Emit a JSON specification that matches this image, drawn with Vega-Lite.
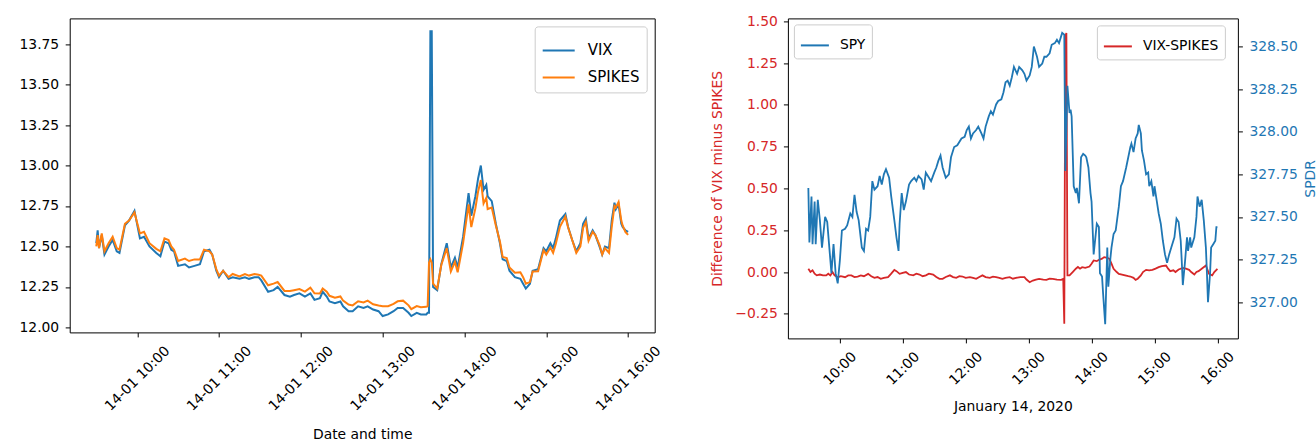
{
  "$schema": "https://vega.github.io/schema/vega-lite/v6.json",
  "background": "white",
  "padding": {"left": 17.7, "top": 13.4, "right": 0, "bottom": 0},
  "bounds": "flush",
  "spacing": 133.2,
  "resolve": {"scale": {"color": "independent"}, "legend": {"color": "independent"}},
  "config": {
    "font": "DejaVu Sans",
    "view": {"stroke": "#000", "strokeWidth": 1},
    "axis": {"labelFont": "DejaVu Sans", "labelFontSize": 13.9, "labelColor": "#000", "titleFont": "DejaVu Sans", "titleFontSize": 13.9, "titleFontWeight": "normal", "titleColor": "#000", "grid": false, "domain": false, "tickColor": "#000", "tickSize": 4.5, "tickWidth": 1, "labelPadding": 6.5, "labelOverlap": false, "labelFlush": false},
    "legend": {"labelFont": "DejaVu Sans", "labelFontSize": 13.9, "labelColor": "#000", "symbolType": "stroke", "symbolStrokeWidth": 2, "symbolSize": 784, "strokeColor": "#cccccc", "fillColor": "rgba(255,255,255,0.8)", "cornerRadius": 3, "padding": 6, "labelOffset": 10, "rowPadding": 0}
  },
  "datasets": {
    "vix": [
      {"t":"2020-01-14T09:30","VIX":12.52,"SPIKES":12.50},
      {"t":"2020-01-14T09:31","VIX":12.60,"SPIKES":12.57},
      {"t":"2020-01-14T09:32","VIX":12.49,"SPIKES":12.49},
      {"t":"2020-01-14T09:34","VIX":12.57,"SPIKES":12.58},
      {"t":"2020-01-14T09:36","VIX":12.45,"SPIKES":12.47},
      {"t":"2020-01-14T09:39","VIX":12.50,"SPIKES":12.52},
      {"t":"2020-01-14T09:42","VIX":12.54,"SPIKES":12.56},
      {"t":"2020-01-14T09:45","VIX":12.47,"SPIKES":12.49},
      {"t":"2020-01-14T09:47","VIX":12.46,"SPIKES":12.48},
      {"t":"2020-01-14T09:51","VIX":12.63,"SPIKES":12.64},
      {"t":"2020-01-14T09:54","VIX":12.66,"SPIKES":12.66},
      {"t":"2020-01-14T09:58","VIX":12.72,"SPIKES":12.71},
      {"t":"2020-01-14T10:02","VIX":12.55,"SPIKES":12.58},
      {"t":"2020-01-14T10:05","VIX":12.56,"SPIKES":12.59},
      {"t":"2020-01-14T10:09","VIX":12.50,"SPIKES":12.52},
      {"t":"2020-01-14T10:14","VIX":12.46,"SPIKES":12.485},
      {"t":"2020-01-14T10:17","VIX":12.44,"SPIKES":12.47},
      {"t":"2020-01-14T10:20","VIX":12.53,"SPIKES":12.55},
      {"t":"2020-01-14T10:23","VIX":12.52,"SPIKES":12.54},
      {"t":"2020-01-14T10:25","VIX":12.48,"SPIKES":12.50},
      {"t":"2020-01-14T10:27","VIX":12.47,"SPIKES":12.48},
      {"t":"2020-01-14T10:30","VIX":12.38,"SPIKES":12.41},
      {"t":"2020-01-14T10:35","VIX":12.39,"SPIKES":12.425},
      {"t":"2020-01-14T10:38","VIX":12.37,"SPIKES":12.41},
      {"t":"2020-01-14T10:42","VIX":12.38,"SPIKES":12.42},
      {"t":"2020-01-14T10:46","VIX":12.39,"SPIKES":12.42},
      {"t":"2020-01-14T10:49","VIX":12.47,"SPIKES":12.48},
      {"t":"2020-01-14T10:53","VIX":12.48,"SPIKES":12.47},
      {"t":"2020-01-14T10:55","VIX":12.45,"SPIKES":12.45},
      {"t":"2020-01-14T10:58","VIX":12.35,"SPIKES":12.36},
      {"t":"2020-01-14T11:00","VIX":12.31,"SPIKES":12.32},
      {"t":"2020-01-14T11:03","VIX":12.35,"SPIKES":12.35},
      {"t":"2020-01-14T11:07","VIX":12.30,"SPIKES":12.31},
      {"t":"2020-01-14T11:10","VIX":12.31,"SPIKES":12.33},
      {"t":"2020-01-14T11:15","VIX":12.30,"SPIKES":12.315},
      {"t":"2020-01-14T11:19","VIX":12.31,"SPIKES":12.33},
      {"t":"2020-01-14T11:22","VIX":12.30,"SPIKES":12.32},
      {"t":"2020-01-14T11:26","VIX":12.31,"SPIKES":12.33},
      {"t":"2020-01-14T11:29","VIX":12.31,"SPIKES":12.325},
      {"t":"2020-01-14T11:31","VIX":12.29,"SPIKES":12.32},
      {"t":"2020-01-14T11:36","VIX":12.22,"SPIKES":12.26},
      {"t":"2020-01-14T11:40","VIX":12.23,"SPIKES":12.27},
      {"t":"2020-01-14T11:43","VIX":12.25,"SPIKES":12.28},
      {"t":"2020-01-14T11:48","VIX":12.20,"SPIKES":12.225},
      {"t":"2020-01-14T11:52","VIX":12.19,"SPIKES":12.225},
      {"t":"2020-01-14T11:55","VIX":12.20,"SPIKES":12.23},
      {"t":"2020-01-14T11:59","VIX":12.21,"SPIKES":12.237},
      {"t":"2020-01-14T12:03","VIX":12.19,"SPIKES":12.221},
      {"t":"2020-01-14T12:07","VIX":12.21,"SPIKES":12.245},
      {"t":"2020-01-14T12:10","VIX":12.17,"SPIKES":12.211},
      {"t":"2020-01-14T12:14","VIX":12.18,"SPIKES":12.21},
      {"t":"2020-01-14T12:16","VIX":12.22,"SPIKES":12.24},
      {"t":"2020-01-14T12:19","VIX":12.19,"SPIKES":12.22},
      {"t":"2020-01-14T12:21","VIX":12.16,"SPIKES":12.195},
      {"t":"2020-01-14T12:25","VIX":12.15,"SPIKES":12.183},
      {"t":"2020-01-14T12:29","VIX":12.16,"SPIKES":12.191},
      {"t":"2020-01-14T12:31","VIX":12.13,"SPIKES":12.165},
      {"t":"2020-01-14T12:35","VIX":12.10,"SPIKES":12.141},
      {"t":"2020-01-14T12:38","VIX":12.10,"SPIKES":12.136},
      {"t":"2020-01-14T12:42","VIX":12.13,"SPIKES":12.161},
      {"t":"2020-01-14T12:46","VIX":12.12,"SPIKES":12.154},
      {"t":"2020-01-14T12:49","VIX":12.13,"SPIKES":12.165},
      {"t":"2020-01-14T12:53","VIX":12.11,"SPIKES":12.143},
      {"t":"2020-01-14T12:57","VIX":12.10,"SPIKES":12.135},
      {"t":"2020-01-14T13:00","VIX":12.07,"SPIKES":12.13},
      {"t":"2020-01-14T13:04","VIX":12.08,"SPIKES":12.131},
      {"t":"2020-01-14T13:08","VIX":12.10,"SPIKES":12.145},
      {"t":"2020-01-14T13:11","VIX":12.12,"SPIKES":12.161},
      {"t":"2020-01-14T13:15","VIX":12.12,"SPIKES":12.165},
      {"t":"2020-01-14T13:19","VIX":12.09,"SPIKES":12.136},
      {"t":"2020-01-14T13:21","VIX":12.07,"SPIKES":12.113},
      {"t":"2020-01-14T13:25","VIX":12.09,"SPIKES":12.132},
      {"t":"2020-01-14T13:28","VIX":12.08,"SPIKES":12.125},
      {"t":"2020-01-14T13:32","VIX":12.08,"SPIKES":12.127},
      {"t":"2020-01-14T13:33","VIX":12.09,"SPIKES":12.13},
      {"t":"2020-01-14T13:34","VIX":12.09,"SPIKES":12.40},
      {"t":"2020-01-14T13:35","VIX":13.83,"SPIKES":12.42},
      {"t":"2020-01-14T13:36","VIX":13.83,"SPIKES":12.40},
      {"t":"2020-01-14T13:37","VIX":12.25,"SPIKES":12.27},
      {"t":"2020-01-14T13:40","VIX":12.23,"SPIKES":12.24},
      {"t":"2020-01-14T13:43","VIX":12.39,"SPIKES":12.385},
      {"t":"2020-01-14T13:47","VIX":12.52,"SPIKES":12.49},
      {"t":"2020-01-14T13:50","VIX":12.37,"SPIKES":12.345},
      {"t":"2020-01-14T13:53","VIX":12.43,"SPIKES":12.405},
      {"t":"2020-01-14T13:55","VIX":12.37,"SPIKES":12.34},
      {"t":"2020-01-14T13:59","VIX":12.56,"SPIKES":12.52},
      {"t":"2020-01-14T14:03","VIX":12.83,"SPIKES":12.76},
      {"t":"2020-01-14T14:05","VIX":12.69,"SPIKES":12.62},
      {"t":"2020-01-14T14:08","VIX":12.81,"SPIKES":12.735},
      {"t":"2020-01-14T14:10","VIX":12.92,"SPIKES":12.84},
      {"t":"2020-01-14T14:12","VIX":13.00,"SPIKES":12.91},
      {"t":"2020-01-14T14:14","VIX":12.85,"SPIKES":12.765},
      {"t":"2020-01-14T14:16","VIX":12.88,"SPIKES":12.80},
      {"t":"2020-01-14T14:17","VIX":12.81,"SPIKES":12.731},
      {"t":"2020-01-14T14:20","VIX":12.78,"SPIKES":12.74},
      {"t":"2020-01-14T14:23","VIX":12.64,"SPIKES":12.63},
      {"t":"2020-01-14T14:26","VIX":12.52,"SPIKES":12.531},
      {"t":"2020-01-14T14:28","VIX":12.42,"SPIKES":12.435},
      {"t":"2020-01-14T14:31","VIX":12.41,"SPIKES":12.428},
      {"t":"2020-01-14T14:33","VIX":12.35,"SPIKES":12.37},
      {"t":"2020-01-14T14:37","VIX":12.31,"SPIKES":12.337},
      {"t":"2020-01-14T14:41","VIX":12.30,"SPIKES":12.34},
      {"t":"2020-01-14T14:43","VIX":12.27,"SPIKES":12.31},
      {"t":"2020-01-14T14:45","VIX":12.24,"SPIKES":12.27},
      {"t":"2020-01-14T14:48","VIX":12.27,"SPIKES":12.28},
      {"t":"2020-01-14T14:50","VIX":12.35,"SPIKES":12.345},
      {"t":"2020-01-14T14:54","VIX":12.36,"SPIKES":12.347},
      {"t":"2020-01-14T14:58","VIX":12.49,"SPIKES":12.477},
      {"t":"2020-01-14T15:00","VIX":12.47,"SPIKES":12.45},
      {"t":"2020-01-14T15:03","VIX":12.52,"SPIKES":12.493},
      {"t":"2020-01-14T15:05","VIX":12.49,"SPIKES":12.46},
      {"t":"2020-01-14T15:07","VIX":12.55,"SPIKES":12.517},
      {"t":"2020-01-14T15:10","VIX":12.66,"SPIKES":12.621},
      {"t":"2020-01-14T15:14","VIX":12.70,"SPIKES":12.685},
      {"t":"2020-01-14T15:16","VIX":12.62,"SPIKES":12.617},
      {"t":"2020-01-14T15:19","VIX":12.54,"SPIKES":12.54},
      {"t":"2020-01-14T15:22","VIX":12.47,"SPIKES":12.46},
      {"t":"2020-01-14T15:25","VIX":12.52,"SPIKES":12.50},
      {"t":"2020-01-14T15:27","VIX":12.64,"SPIKES":12.615},
      {"t":"2020-01-14T15:29","VIX":12.67,"SPIKES":12.65},
      {"t":"2020-01-14T15:31","VIX":12.55,"SPIKES":12.535},
      {"t":"2020-01-14T15:34","VIX":12.60,"SPIKES":12.59},
      {"t":"2020-01-14T15:36","VIX":12.57,"SPIKES":12.57},
      {"t":"2020-01-14T15:39","VIX":12.50,"SPIKES":12.51},
      {"t":"2020-01-14T15:41","VIX":12.45,"SPIKES":12.45},
      {"t":"2020-01-14T15:43","VIX":12.50,"SPIKES":12.49},
      {"t":"2020-01-14T15:46","VIX":12.49,"SPIKES":12.46},
      {"t":"2020-01-14T15:48","VIX":12.66,"SPIKES":12.621},
      {"t":"2020-01-14T15:50","VIX":12.77,"SPIKES":12.75},
      {"t":"2020-01-14T15:51","VIX":12.73,"SPIKES":12.741},
      {"t":"2020-01-14T15:53","VIX":12.76,"SPIKES":12.775},
      {"t":"2020-01-14T15:55","VIX":12.64,"SPIKES":12.66},
      {"t":"2020-01-14T15:56","VIX":12.62,"SPIKES":12.63},
      {"t":"2020-01-14T15:58","VIX":12.60,"SPIKES":12.59},
      {"t":"2020-01-14T16:00","VIX":12.59,"SPIKES":12.571}
    ],
    "diff": [
      {"t":"2020-01-14T09:30","d":0.02},
      {"t":"2020-01-14T09:32","d":0.0},
      {"t":"2020-01-14T09:34","d":0.01},
      {"t":"2020-01-14T09:36","d":-0.01},
      {"t":"2020-01-14T09:38","d":-0.02},
      {"t":"2020-01-14T09:41","d":-0.015},
      {"t":"2020-01-14T09:44","d":-0.02},
      {"t":"2020-01-14T09:47","d":-0.02},
      {"t":"2020-01-14T09:49","d":-0.01},
      {"t":"2020-01-14T09:51","d":-0.02},
      {"t":"2020-01-14T09:53","d":0.0},
      {"t":"2020-01-14T09:55","d":-0.02},
      {"t":"2020-01-14T09:58","d":-0.031},
      {"t":"2020-01-14T10:01","d":-0.025},
      {"t":"2020-01-14T10:05","d":-0.031},
      {"t":"2020-01-14T10:08","d":-0.02},
      {"t":"2020-01-14T10:11","d":-0.02},
      {"t":"2020-01-14T10:14","d":-0.03},
      {"t":"2020-01-14T10:17","d":-0.027},
      {"t":"2020-01-14T10:20","d":-0.02},
      {"t":"2020-01-14T10:23","d":-0.025},
      {"t":"2020-01-14T10:27","d":-0.011},
      {"t":"2020-01-14T10:30","d":-0.025},
      {"t":"2020-01-14T10:33","d":-0.035},
      {"t":"2020-01-14T10:36","d":-0.03},
      {"t":"2020-01-14T10:39","d":-0.041},
      {"t":"2020-01-14T10:42","d":-0.035},
      {"t":"2020-01-14T10:46","d":-0.031},
      {"t":"2020-01-14T10:49","d":-0.01},
      {"t":"2020-01-14T10:52","d":0.013},
      {"t":"2020-01-14T10:54","d":0.005},
      {"t":"2020-01-14T10:57","d":-0.011},
      {"t":"2020-01-14T11:00","d":-0.005},
      {"t":"2020-01-14T11:03","d":0.0},
      {"t":"2020-01-14T11:06","d":-0.015},
      {"t":"2020-01-14T11:10","d":-0.02},
      {"t":"2020-01-14T11:13","d":-0.01},
      {"t":"2020-01-14T11:16","d":-0.015},
      {"t":"2020-01-14T11:19","d":-0.025},
      {"t":"2020-01-14T11:22","d":-0.02},
      {"t":"2020-01-14T11:25","d":-0.01},
      {"t":"2020-01-14T11:29","d":-0.015},
      {"t":"2020-01-14T11:32","d":-0.03},
      {"t":"2020-01-14T11:35","d":-0.041},
      {"t":"2020-01-14T11:38","d":-0.041},
      {"t":"2020-01-14T11:41","d":-0.03},
      {"t":"2020-01-14T11:45","d":-0.02},
      {"t":"2020-01-14T11:48","d":-0.03},
      {"t":"2020-01-14T11:51","d":-0.035},
      {"t":"2020-01-14T11:54","d":-0.025},
      {"t":"2020-01-14T11:57","d":-0.027},
      {"t":"2020-01-14T12:00","d":-0.035},
      {"t":"2020-01-14T12:04","d":-0.031},
      {"t":"2020-01-14T12:07","d":-0.035},
      {"t":"2020-01-14T12:10","d":-0.041},
      {"t":"2020-01-14T12:13","d":-0.03},
      {"t":"2020-01-14T12:16","d":-0.02},
      {"t":"2020-01-14T12:19","d":-0.03},
      {"t":"2020-01-14T12:23","d":-0.035},
      {"t":"2020-01-14T12:26","d":-0.028},
      {"t":"2020-01-14T12:29","d":-0.031},
      {"t":"2020-01-14T12:32","d":-0.035},
      {"t":"2020-01-14T12:35","d":-0.041},
      {"t":"2020-01-14T12:38","d":-0.035},
      {"t":"2020-01-14T12:42","d":-0.031},
      {"t":"2020-01-14T12:45","d":-0.04},
      {"t":"2020-01-14T12:48","d":-0.035},
      {"t":"2020-01-14T12:52","d":-0.03},
      {"t":"2020-01-14T12:56","d":-0.031},
      {"t":"2020-01-14T12:58","d":-0.045},
      {"t":"2020-01-14T13:01","d":-0.061},
      {"t":"2020-01-14T13:04","d":-0.051},
      {"t":"2020-01-14T13:07","d":-0.045},
      {"t":"2020-01-14T13:10","d":-0.041},
      {"t":"2020-01-14T13:14","d":-0.045},
      {"t":"2020-01-14T13:17","d":-0.047},
      {"t":"2020-01-14T13:20","d":-0.04},
      {"t":"2020-01-14T13:23","d":-0.041},
      {"t":"2020-01-14T13:27","d":-0.045},
      {"t":"2020-01-14T13:31","d":-0.047},
      {"t":"2020-01-14T13:33","d":-0.041},
      {"t":"2020-01-14T13:34","d":-0.31},
      {"t":"2020-01-14T13:35","d":1.41},
      {"t":"2020-01-14T13:36","d":1.43},
      {"t":"2020-01-14T13:37","d":-0.02},
      {"t":"2020-01-14T13:39","d":-0.02},
      {"t":"2020-01-14T13:42","d":0.0},
      {"t":"2020-01-14T13:45","d":0.02},
      {"t":"2020-01-14T13:47","d":0.03},
      {"t":"2020-01-14T13:49","d":0.02},
      {"t":"2020-01-14T13:51","d":0.029},
      {"t":"2020-01-14T13:54","d":0.025},
      {"t":"2020-01-14T13:58","d":0.033},
      {"t":"2020-01-14T14:00","d":0.05},
      {"t":"2020-01-14T14:02","d":0.069},
      {"t":"2020-01-14T14:05","d":0.065},
      {"t":"2020-01-14T14:07","d":0.073},
      {"t":"2020-01-14T14:10","d":0.08},
      {"t":"2020-01-14T14:12","d":0.089},
      {"t":"2020-01-14T14:15","d":0.085},
      {"t":"2020-01-14T14:17","d":0.079},
      {"t":"2020-01-14T14:19","d":0.05},
      {"t":"2020-01-14T14:21","d":0.019},
      {"t":"2020-01-14T14:24","d":0.0},
      {"t":"2020-01-14T14:26","d":-0.011},
      {"t":"2020-01-14T14:29","d":-0.015},
      {"t":"2020-01-14T14:32","d":-0.02},
      {"t":"2020-01-14T14:35","d":-0.025},
      {"t":"2020-01-14T14:37","d":-0.027},
      {"t":"2020-01-14T14:40","d":-0.035},
      {"t":"2020-01-14T14:42","d":-0.047},
      {"t":"2020-01-14T14:44","d":-0.04},
      {"t":"2020-01-14T14:47","d":-0.02},
      {"t":"2020-01-14T14:49","d":0.0},
      {"t":"2020-01-14T14:52","d":0.013},
      {"t":"2020-01-14T14:55","d":0.01},
      {"t":"2020-01-14T14:58","d":0.013},
      {"t":"2020-01-14T15:01","d":0.02},
      {"t":"2020-01-14T15:04","d":0.029},
      {"t":"2020-01-14T15:07","d":0.035},
      {"t":"2020-01-14T15:11","d":0.039},
      {"t":"2020-01-14T15:13","d":0.02},
      {"t":"2020-01-14T15:15","d":0.005},
      {"t":"2020-01-14T15:18","d":0.01},
      {"t":"2020-01-14T15:20","d":0.0},
      {"t":"2020-01-14T15:23","d":0.015},
      {"t":"2020-01-14T15:27","d":0.025},
      {"t":"2020-01-14T15:30","d":0.02},
      {"t":"2020-01-14T15:33","d":0.013},
      {"t":"2020-01-14T15:35","d":0.0},
      {"t":"2020-01-14T15:38","d":-0.015},
      {"t":"2020-01-14T15:40","d":0.0},
      {"t":"2020-01-14T15:42","d":0.005},
      {"t":"2020-01-14T15:45","d":0.02},
      {"t":"2020-01-14T15:49","d":0.039},
      {"t":"2020-01-14T15:52","d":-0.011},
      {"t":"2020-01-14T15:55","d":-0.02},
      {"t":"2020-01-14T15:57","d":0.0},
      {"t":"2020-01-14T16:00","d":0.019}
    ],
    "spy": [
      {"t":"2020-01-14T09:30","p":327.67},
      {"t":"2020-01-14T09:31","p":327.35},
      {"t":"2020-01-14T09:33","p":327.62},
      {"t":"2020-01-14T09:34","p":327.34},
      {"t":"2020-01-14T09:36","p":327.59},
      {"t":"2020-01-14T09:37","p":327.34},
      {"t":"2020-01-14T09:39","p":327.60},
      {"t":"2020-01-14T09:41","p":327.48},
      {"t":"2020-01-14T09:43","p":327.32},
      {"t":"2020-01-14T09:46","p":327.50},
      {"t":"2020-01-14T09:48","p":327.47},
      {"t":"2020-01-14T09:50","p":327.32},
      {"t":"2020-01-14T09:52","p":327.17},
      {"t":"2020-01-14T09:54","p":327.34},
      {"t":"2020-01-14T09:56","p":327.17},
      {"t":"2020-01-14T09:58","p":327.11},
      {"t":"2020-01-14T10:00","p":327.24},
      {"t":"2020-01-14T10:02","p":327.42},
      {"t":"2020-01-14T10:05","p":327.43},
      {"t":"2020-01-14T10:07","p":327.45},
      {"t":"2020-01-14T10:10","p":327.52},
      {"t":"2020-01-14T10:12","p":327.50},
      {"t":"2020-01-14T10:14","p":327.63},
      {"t":"2020-01-14T10:16","p":327.53},
      {"t":"2020-01-14T10:18","p":327.48},
      {"t":"2020-01-14T10:21","p":327.32},
      {"t":"2020-01-14T10:23","p":327.30},
      {"t":"2020-01-14T10:25","p":327.43},
      {"t":"2020-01-14T10:27","p":327.42},
      {"t":"2020-01-14T10:29","p":327.50},
      {"t":"2020-01-14T10:31","p":327.71},
      {"t":"2020-01-14T10:33","p":327.66},
      {"t":"2020-01-14T10:36","p":327.68},
      {"t":"2020-01-14T10:38","p":327.74},
      {"t":"2020-01-14T10:40","p":327.69},
      {"t":"2020-01-14T10:42","p":327.75},
      {"t":"2020-01-14T10:44","p":327.78},
      {"t":"2020-01-14T10:47","p":327.73},
      {"t":"2020-01-14T10:49","p":327.62},
      {"t":"2020-01-14T10:52","p":327.48},
      {"t":"2020-01-14T10:54","p":327.38},
      {"t":"2020-01-14T10:56","p":327.30},
      {"t":"2020-01-14T10:57","p":327.46},
      {"t":"2020-01-14T10:59","p":327.64},
      {"t":"2020-01-14T11:01","p":327.54},
      {"t":"2020-01-14T11:03","p":327.59},
      {"t":"2020-01-14T11:06","p":327.69},
      {"t":"2020-01-14T11:08","p":327.71},
      {"t":"2020-01-14T11:11","p":327.73},
      {"t":"2020-01-14T11:13","p":327.71},
      {"t":"2020-01-14T11:15","p":327.74},
      {"t":"2020-01-14T11:18","p":327.72},
      {"t":"2020-01-14T11:20","p":327.66},
      {"t":"2020-01-14T11:22","p":327.76},
      {"t":"2020-01-14T11:25","p":327.73},
      {"t":"2020-01-14T11:27","p":327.71},
      {"t":"2020-01-14T11:30","p":327.76},
      {"t":"2020-01-14T11:32","p":327.79},
      {"t":"2020-01-14T11:34","p":327.83},
      {"t":"2020-01-14T11:36","p":327.86},
      {"t":"2020-01-14T11:38","p":327.79},
      {"t":"2020-01-14T11:41","p":327.73},
      {"t":"2020-01-14T11:44","p":327.75},
      {"t":"2020-01-14T11:46","p":327.85},
      {"t":"2020-01-14T11:49","p":327.91},
      {"t":"2020-01-14T11:52","p":327.92},
      {"t":"2020-01-14T11:56","p":327.96},
      {"t":"2020-01-14T11:59","p":327.97},
      {"t":"2020-01-14T12:01","p":328.01},
      {"t":"2020-01-14T12:03","p":328.03},
      {"t":"2020-01-14T12:05","p":327.96},
      {"t":"2020-01-14T12:07","p":327.99},
      {"t":"2020-01-14T12:10","p":328.01},
      {"t":"2020-01-14T12:12","p":328.03},
      {"t":"2020-01-14T12:15","p":327.99},
      {"t":"2020-01-14T12:17","p":327.96},
      {"t":"2020-01-14T12:19","p":328.03},
      {"t":"2020-01-14T12:22","p":328.09},
      {"t":"2020-01-14T12:24","p":328.12},
      {"t":"2020-01-14T12:26","p":328.10},
      {"t":"2020-01-14T12:29","p":328.16},
      {"t":"2020-01-14T12:31","p":328.18},
      {"t":"2020-01-14T12:34","p":328.19},
      {"t":"2020-01-14T12:36","p":328.23},
      {"t":"2020-01-14T12:38","p":328.29},
      {"t":"2020-01-14T12:40","p":328.30},
      {"t":"2020-01-14T12:42","p":328.27},
      {"t":"2020-01-14T12:44","p":328.32},
      {"t":"2020-01-14T12:46","p":328.38},
      {"t":"2020-01-14T12:49","p":328.34},
      {"t":"2020-01-14T12:51","p":328.38},
      {"t":"2020-01-14T12:54","p":328.36},
      {"t":"2020-01-14T12:56","p":328.34},
      {"t":"2020-01-14T12:58","p":328.30},
      {"t":"2020-01-14T13:01","p":328.33},
      {"t":"2020-01-14T13:03","p":328.38},
      {"t":"2020-01-14T13:05","p":328.50},
      {"t":"2020-01-14T13:08","p":328.44},
      {"t":"2020-01-14T13:10","p":328.38},
      {"t":"2020-01-14T13:13","p":328.40},
      {"t":"2020-01-14T13:15","p":328.44},
      {"t":"2020-01-14T13:17","p":328.44},
      {"t":"2020-01-14T13:20","p":328.46},
      {"t":"2020-01-14T13:22","p":328.51},
      {"t":"2020-01-14T13:25","p":328.52},
      {"t":"2020-01-14T13:27","p":328.54},
      {"t":"2020-01-14T13:29","p":328.52},
      {"t":"2020-01-14T13:32","p":328.58},
      {"t":"2020-01-14T13:34","p":328.57},
      {"t":"2020-01-14T13:35","p":327.77},
      {"t":"2020-01-14T13:37","p":328.27},
      {"t":"2020-01-14T13:39","p":328.11},
      {"t":"2020-01-14T13:40","p":328.13},
      {"t":"2020-01-14T13:41","p":328.09},
      {"t":"2020-01-14T13:43","p":327.68},
      {"t":"2020-01-14T13:45","p":327.64},
      {"t":"2020-01-14T13:46","p":327.67},
      {"t":"2020-01-14T13:48","p":327.58},
      {"t":"2020-01-14T13:50","p":327.85},
      {"t":"2020-01-14T13:52","p":327.87},
      {"t":"2020-01-14T13:54","p":327.86},
      {"t":"2020-01-14T13:55","p":327.85},
      {"t":"2020-01-14T13:57","p":327.79},
      {"t":"2020-01-14T13:59","p":327.64},
      {"t":"2020-01-14T14:00","p":327.59},
      {"t":"2020-01-14T14:02","p":327.28},
      {"t":"2020-01-14T14:04","p":327.40},
      {"t":"2020-01-14T14:05","p":327.46},
      {"t":"2020-01-14T14:07","p":327.44},
      {"t":"2020-01-14T14:08","p":327.17},
      {"t":"2020-01-14T14:10","p":327.15},
      {"t":"2020-01-14T14:11","p":327.05},
      {"t":"2020-01-14T14:13","p":326.87},
      {"t":"2020-01-14T14:15","p":327.32},
      {"t":"2020-01-14T14:16","p":327.09},
      {"t":"2020-01-14T14:18","p":327.26},
      {"t":"2020-01-14T14:19","p":327.32},
      {"t":"2020-01-14T14:21","p":327.40},
      {"t":"2020-01-14T14:23","p":327.42},
      {"t":"2020-01-14T14:26","p":327.56},
      {"t":"2020-01-14T14:28","p":327.68},
      {"t":"2020-01-14T14:30","p":327.71},
      {"t":"2020-01-14T14:33","p":327.79},
      {"t":"2020-01-14T14:35","p":327.85},
      {"t":"2020-01-14T14:37","p":327.91},
      {"t":"2020-01-14T14:38","p":327.93},
      {"t":"2020-01-14T14:40","p":327.88},
      {"t":"2020-01-14T14:42","p":327.96},
      {"t":"2020-01-14T14:44","p":327.99},
      {"t":"2020-01-14T14:45","p":328.04},
      {"t":"2020-01-14T14:47","p":327.99},
      {"t":"2020-01-14T14:48","p":327.89},
      {"t":"2020-01-14T14:50","p":327.83},
      {"t":"2020-01-14T14:52","p":327.75},
      {"t":"2020-01-14T14:54","p":327.76},
      {"t":"2020-01-14T14:55","p":327.68},
      {"t":"2020-01-14T14:57","p":327.71},
      {"t":"2020-01-14T14:59","p":327.62},
      {"t":"2020-01-14T15:00","p":327.68},
      {"t":"2020-01-14T15:02","p":327.60},
      {"t":"2020-01-14T15:04","p":327.52},
      {"t":"2020-01-14T15:06","p":327.46},
      {"t":"2020-01-14T15:08","p":327.36},
      {"t":"2020-01-14T15:10","p":327.28},
      {"t":"2020-01-14T15:12","p":327.23},
      {"t":"2020-01-14T15:14","p":327.28},
      {"t":"2020-01-14T15:16","p":327.32},
      {"t":"2020-01-14T15:19","p":327.38},
      {"t":"2020-01-14T15:21","p":327.49},
      {"t":"2020-01-14T15:23","p":327.47},
      {"t":"2020-01-14T15:25","p":327.36},
      {"t":"2020-01-14T15:26","p":327.24},
      {"t":"2020-01-14T15:27","p":327.10},
      {"t":"2020-01-14T15:29","p":327.23},
      {"t":"2020-01-14T15:31","p":327.38},
      {"t":"2020-01-14T15:32","p":327.30},
      {"t":"2020-01-14T15:34","p":327.38},
      {"t":"2020-01-14T15:35","p":327.32},
      {"t":"2020-01-14T15:38","p":327.38},
      {"t":"2020-01-14T15:40","p":327.50},
      {"t":"2020-01-14T15:41","p":327.62},
      {"t":"2020-01-14T15:43","p":327.56},
      {"t":"2020-01-14T15:45","p":327.60},
      {"t":"2020-01-14T15:47","p":327.48},
      {"t":"2020-01-14T15:49","p":327.32},
      {"t":"2020-01-14T15:50","p":327.17},
      {"t":"2020-01-14T15:51","p":327.00},
      {"t":"2020-01-14T15:53","p":327.17},
      {"t":"2020-01-14T15:54","p":327.32},
      {"t":"2020-01-14T15:56","p":327.34},
      {"t":"2020-01-14T15:58","p":327.36},
      {"t":"2020-01-14T15:59","p":327.44},
      {"t":"2020-01-14T16:00","p":327.44}
    ]
  },
  "hconcat": [
    {
      "width": 585,
      "height": 314,
      "data": {"name": "vix"},
      "encoding": {
        "x": {
          "field": "t", "type": "temporal",
          "scale": {"domain": [{"year": 2020, "month": 1, "date": 14, "hours": 9, "minutes": 10, "seconds": 30}, {"year": 2020, "month": 1, "date": 14, "hours": 16, "minutes": 19, "seconds": 30}]},
          "axis": {
            "title": "Date and time",
            "format": "%d-%m %H:%M",
            "values": [
              {"year": 2020, "month": 1, "date": 14, "hours": 10},
              {"year": 2020, "month": 1, "date": 14, "hours": 11},
              {"year": 2020, "month": 1, "date": 14, "hours": 12},
              {"year": 2020, "month": 1, "date": 14, "hours": 13},
              {"year": 2020, "month": 1, "date": 14, "hours": 14},
              {"year": 2020, "month": 1, "date": 14, "hours": 15},
              {"year": 2020, "month": 1, "date": 14, "hours": 16}
            ],
            "labelAngle": -45, "labelAlign": "center", "labelBaseline": "middle",
            "labelPadding": 41.4, "titlePadding": 14
          }
        }
      },
      "layer": [
        {
          "mark": {"type": "line", "strokeWidth": 2, "clip": true},
          "encoding": {
            "y": {"field": "VIX", "type": "quantitative", "title": null,
              "scale": {"domain": [11.969, 13.909], "nice": false, "zero": false},
              "axis": {"values": [12.0, 12.25, 12.5, 12.75, 13.0, 13.25, 13.5, 13.75], "format": ".2f"}},
            "color": {"datum": "VIX", "type": "nominal",
              "scale": {"domain": ["VIX", "SPIKES"], "range": ["#1f77b4", "#ff7f0e"]},
              "legend": {"title": null, "orient": "top-right", "offset": 8, "labelFontSize": 15, "padding": 7, "symbolSize": 1024, "labelOffset": 12, "rowPadding": 2}}
          }
        },
        {
          "mark": {"type": "line", "strokeWidth": 2, "clip": true},
          "encoding": {
            "y": {"field": "SPIKES", "type": "quantitative", "title": null},
            "color": {"datum": "SPIKES", "type": "nominal"}
          }
        }
      ]
    },
    {
      "width": 450,
      "height": 320,
      "encoding": {
        "x": {
          "field": "t", "type": "temporal",
          "scale": {"domain": [{"year": 2020, "month": 1, "date": 14, "hours": 9, "minutes": 10, "seconds": 30}, {"year": 2020, "month": 1, "date": 14, "hours": 16, "minutes": 19, "seconds": 30}]},
          "axis": {
            "title": "January 14, 2020",
            "format": "%H:%M",
            "values": [
              {"year": 2020, "month": 1, "date": 14, "hours": 10},
              {"year": 2020, "month": 1, "date": 14, "hours": 11},
              {"year": 2020, "month": 1, "date": 14, "hours": 12},
              {"year": 2020, "month": 1, "date": 14, "hours": 13},
              {"year": 2020, "month": 1, "date": 14, "hours": 14},
              {"year": 2020, "month": 1, "date": 14, "hours": 15},
              {"year": 2020, "month": 1, "date": 14, "hours": 16}
            ],
            "labelAngle": -45, "labelAlign": "center", "labelBaseline": "middle",
            "labelPadding": 25.5, "titlePadding": 12
          }
        }
      },
      "layer": [
        {
          "data": {"name": "diff"},
          "mark": {"type": "line", "strokeWidth": 1.8},
          "encoding": {
            "y": {"field": "d", "type": "quantitative",
              "scale": {"domain": [-0.397, 1.517], "nice": false, "zero": false},
              "axis": {"title": "Difference of VIX minus SPIKES", "orient": "left", "values": [-0.25, 0, 0.25, 0.5, 0.75, 1.0, 1.25, 1.5], "format": ".2f", "labelColor": "#d62728", "titleColor": "#d62728", "labelPadding": 6, "titlePadding": 10}},
            "color": {"datum": "VIX-SPIKES", "type": "nominal",
              "scale": {"domain": ["VIX-SPIKES"], "range": ["#d62728"]},
              "legend": {"title": null, "orient": "none", "legendX": 309, "legendY": 7}}
          }
        },
        {
          "data": {"name": "spy"},
          "mark": {"type": "line", "strokeWidth": 1.8},
          "encoding": {
            "y": {"field": "p", "type": "quantitative",
              "scale": {"domain": [326.787, 328.665], "nice": false, "zero": false},
              "axis": {"title": "SPDR", "orient": "right", "values": [327.0, 327.25, 327.5, 327.75, 328.0, 328.25, 328.5], "format": ".2f", "labelColor": "#1f77b4", "titleColor": "#1f77b4", "titleAngle": -90, "titleBaseline": "top", "titlePadding": 6.5}},
            "color": {"datum": "SPY", "type": "nominal",
              "scale": {"domain": ["SPY"], "range": ["#1f77b4"]},
              "legend": {"title": null, "orient": "top-left", "offset": 6}}
          }
        }
      ],
      "resolve": {"scale": {"y": "independent", "color": "independent"}, "legend": {"color": "independent"}}
    }
  ]
}
